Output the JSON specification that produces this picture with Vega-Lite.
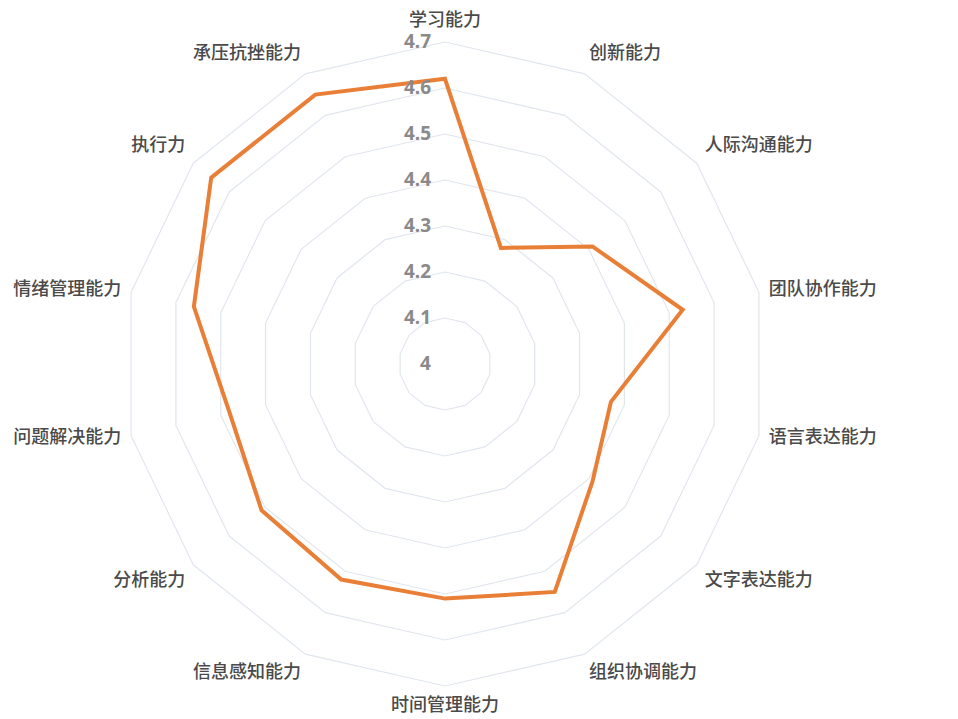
{
  "$schema": "https://vega.github.io/schema/vega-lite/v6.json",
  "width": 958,
  "height": 719,
  "autosize": {"type": "none"},
  "padding": 0,
  "background": "white",
  "config": {"view": {"stroke": null}},
  "datasets": {
    "scores": [
      {"ability": "学习能力", "i": 0, "score": 4.62},
      {"ability": "创新能力", "i": 1, "score": 4.28},
      {"ability": "人际沟通能力", "i": 2, "score": 4.41},
      {"ability": "团队协作能力", "i": 3, "score": 4.53},
      {"ability": "语言表达能力", "i": 4, "score": 4.37},
      {"ability": "文字表达能力", "i": 5, "score": 4.41},
      {"ability": "组织协调能力", "i": 6, "score": 4.55},
      {"ability": "时间管理能力", "i": 7, "score": 4.51},
      {"ability": "信息感知能力", "i": 8, "score": 4.52},
      {"ability": "分析能力", "i": 9, "score": 4.51},
      {"ability": "问题解决能力", "i": 10, "score": 4.48},
      {"ability": "情绪管理能力", "i": 11, "score": 4.56},
      {"ability": "执行力", "i": 12, "score": 4.65},
      {"ability": "承压抗挫能力", "i": 13, "score": 4.65}
    ],
    "rings": [
      {"level": 4.1, "i": [0,1,2,3,4,5,6,7,8,9,10,11,12,13]},
      {"level": 4.2, "i": [0,1,2,3,4,5,6,7,8,9,10,11,12,13]},
      {"level": 4.3, "i": [0,1,2,3,4,5,6,7,8,9,10,11,12,13]},
      {"level": 4.4, "i": [0,1,2,3,4,5,6,7,8,9,10,11,12,13]},
      {"level": 4.5, "i": [0,1,2,3,4,5,6,7,8,9,10,11,12,13]},
      {"level": 4.6, "i": [0,1,2,3,4,5,6,7,8,9,10,11,12,13]},
      {"level": 4.7, "i": [0,1,2,3,4,5,6,7,8,9,10,11,12,13]}
    ],
    "ticks": [
      {"level": 4, "label": "4"},
      {"level": 4.1, "label": "4.1"},
      {"level": 4.2, "label": "4.2"},
      {"level": 4.3, "label": "4.3"},
      {"level": 4.4, "label": "4.4"},
      {"level": 4.5, "label": "4.5"},
      {"level": 4.6, "label": "4.6"},
      {"level": 4.7, "label": "4.7"}
    ]
  },
  "layer": [
    {
      "data": {"name": "rings"},
      "transform": [
        {"flatten": ["i"]},
        {"calculate": "(datum.level - 4) * sin(datum.i * 2 * PI / 14)", "as": "x"},
        {"calculate": "(datum.level - 4) * cos(datum.i * 2 * PI / 14)", "as": "y"}
      ],
      "mark": {"type": "line", "interpolate": "linear-closed", "stroke": "#E1E6EE", "strokeWidth": 1.2},
      "encoding": {
        "x": {"field": "x", "type": "quantitative", "scale": {"domain": [-0.96739, 1.11522], "nice": false, "zero": false}, "axis": null},
        "y": {"field": "y", "type": "quantitative", "scale": {"domain": [-0.77174, 0.7913], "nice": false, "zero": false}, "axis": null},
        "detail": {"field": "level", "type": "nominal"},
        "order": {"field": "i", "type": "quantitative"}
      }
    },
    {
      "data": {"name": "scores"},
      "transform": [
        {"calculate": "(datum.score - 4) * sin(datum.i * 2 * PI / 14)", "as": "x"},
        {"calculate": "(datum.score - 4) * cos(datum.i * 2 * PI / 14)", "as": "y"}
      ],
      "mark": {"type": "line", "interpolate": "linear-closed", "stroke": "#E97F36", "strokeWidth": 4, "strokeJoin": "miter"},
      "encoding": {
        "x": {"field": "x", "type": "quantitative", "axis": null},
        "y": {"field": "y", "type": "quantitative", "axis": null},
        "order": {"field": "i", "type": "quantitative"}
      }
    },
    {
      "data": {"name": "ticks"},
      "transform": [
        {"calculate": "0", "as": "x"},
        {"calculate": "datum.level - 4", "as": "y"}
      ],
      "mark": {"type": "text", "align": "right", "baseline": "middle", "dx": -14, "font": "Noto Sans", "fontSize": 19, "fontWeight": "bold", "fill": "#8A8A8A"},
      "encoding": {
        "x": {"field": "x", "type": "quantitative", "axis": null},
        "y": {"field": "y", "type": "quantitative", "axis": null},
        "text": {"field": "label", "type": "nominal"}
      }
    },
    {
      "data": {"name": "scores"},
      "transform": [
        {"calculate": "0.722 * sin(datum.i * 2 * PI / 14)", "as": "x"},
        {"calculate": "0.722 * cos(datum.i * 2 * PI / 14) + (cos(datum.i * 2 * PI / 14) > 0.5 ? 0.024 : (cos(datum.i * 2 * PI / 14) < -0.5 ? -0.022 : 0))", "as": "y"},
        {"calculate": "datum.i == 0 || datum.i == 7 ? 'center' : (datum.i < 7 ? 'left' : 'right')", "as": "side"}
      ],
      "layer": [
        {
          "transform": [{"filter": "datum.side == 'left'"}],
          "mark": {"type": "text", "align": "left", "baseline": "middle", "font": "Noto Sans CJK SC", "fontSize": 18, "fontWeight": 500, "fill": "#4A4A4A"},
          "encoding": {
            "x": {"field": "x", "type": "quantitative", "axis": null},
            "y": {"field": "y", "type": "quantitative", "axis": null},
            "text": {"field": "ability", "type": "nominal"}
          }
        },
        {
          "transform": [{"filter": "datum.side == 'center'"}],
          "mark": {"type": "text", "align": "center", "baseline": "middle", "font": "Noto Sans CJK SC", "fontSize": 18, "fontWeight": 500, "fill": "#4A4A4A"},
          "encoding": {
            "x": {"field": "x", "type": "quantitative", "axis": null},
            "y": {"field": "y", "type": "quantitative", "axis": null},
            "text": {"field": "ability", "type": "nominal"}
          }
        },
        {
          "transform": [{"filter": "datum.side == 'right'"}],
          "mark": {"type": "text", "align": "right", "baseline": "middle", "font": "Noto Sans CJK SC", "fontSize": 18, "fontWeight": 500, "fill": "#4A4A4A"},
          "encoding": {
            "x": {"field": "x", "type": "quantitative", "axis": null},
            "y": {"field": "y", "type": "quantitative", "axis": null},
            "text": {"field": "ability", "type": "nominal"}
          }
        }
      ]
    }
  ]
}
